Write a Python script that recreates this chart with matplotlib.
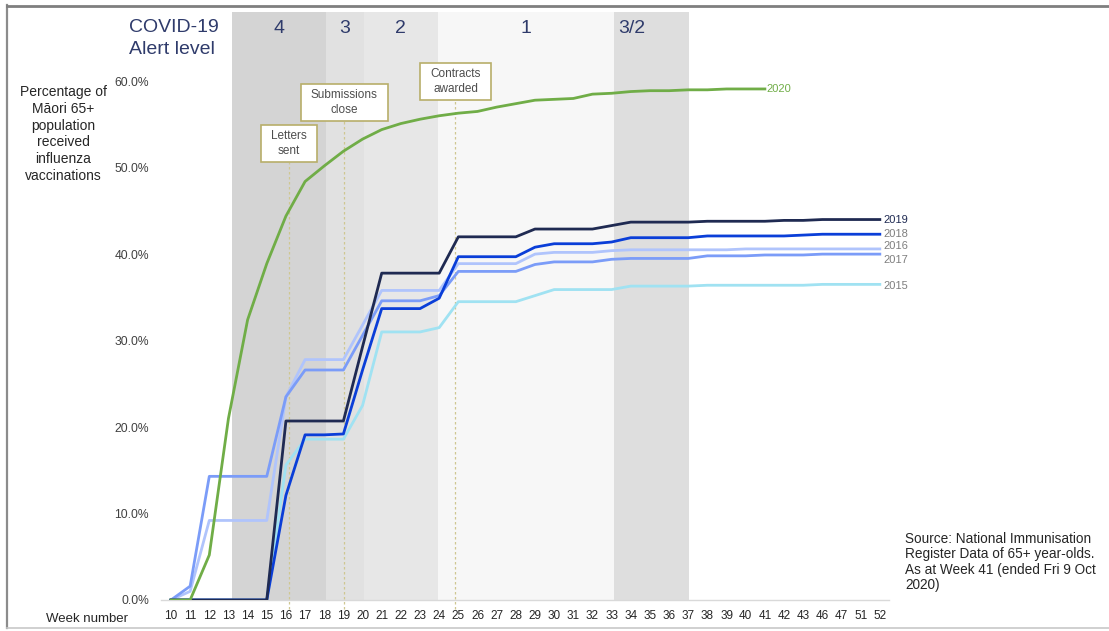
import matplotlib
matplotlib.use("Agg")
import matplotlib.pyplot as plt
from matplotlib.lines import Line2D

plt.rcParams['font.family'] = ['Liberation Sans', 'DejaVu Sans']

weeks = [str(w) for w in range(10, 42)] + ['42', '43', '46', '47', '51', '52']

# % of Maori 65+ vaccinated, by week
pct_2020 = [0, 0, 5.2, 21.0, 32.4, 38.9, 44.4, 48.4, 50.2, 51.9, 53.3, 54.4, 55.1, 55.6, 56.0, 56.3,
            56.5, 57.0, 57.4, 57.8, 57.9, 58.0, 58.5, 58.6, 58.8, 58.9, 58.9, 59.0, 59.0, 59.1, 59.1, 59.1]
pct_2019 = [0, 0, 0, 0, 0, 0, 20.7, 20.7, 20.7, 20.7, 29.3, 37.8, 37.8, 37.8, 37.8, 42.0, 42.0, 42.0, 42.0,
            42.9, 42.9, 42.9, 42.9, 43.3, 43.7, 43.7, 43.7, 43.7, 43.8, 43.8, 43.8, 43.8, 43.9, 43.9,
            44.0, 44.0, 44.0, 44.0]
pct_2018 = [0, 0, 0, 0, 0, 0, 12.1, 19.1, 19.1, 19.2, 26.6, 33.7, 33.7, 33.7, 34.9, 39.7, 39.7, 39.7, 39.7,
            40.8, 41.2, 41.2, 41.2, 41.4, 41.9, 41.9, 41.9, 41.9, 42.1, 42.1, 42.1, 42.1, 42.1, 42.2,
            42.3, 42.3, 42.3, 42.3]
pct_2017 = [0, 1.6, 14.3, 14.3, 14.3, 14.3, 23.5, 26.6, 26.6, 26.6, 30.6, 34.6, 34.6, 34.6, 35.2, 38.0, 38.0,
            38.0, 38.0, 38.8, 39.1, 39.1, 39.1, 39.4, 39.5, 39.5, 39.5, 39.5, 39.8, 39.8, 39.8, 39.9,
            39.9, 39.9, 40.0, 40.0, 40.0, 40.0]
pct_2016 = [0, 1.0, 9.2, 9.2, 9.2, 9.2, 23.5, 27.8, 27.8, 27.8, 31.8, 35.8, 35.8, 35.8, 35.8, 38.9, 38.9,
            38.9, 38.9, 40.0, 40.2, 40.2, 40.2, 40.4, 40.5, 40.5, 40.5, 40.5, 40.5, 40.5, 40.6, 40.6,
            40.6, 40.6, 40.6, 40.6, 40.6, 40.6]
pct_2015 = [0, 0, 0, 0, 0, 0, 15.6, 18.6, 18.6, 18.6, 22.5, 31.0, 31.0, 31.0, 31.5, 34.5, 34.5, 34.5, 34.5,
            35.2, 35.9, 35.9, 35.9, 35.9, 36.3, 36.3, 36.3, 36.3, 36.4, 36.4, 36.4, 36.4, 36.4, 36.4,
            36.5, 36.5, 36.5, 36.5]

series = [('2015', pct_2015, '#a0e2f2', '#7f7f7f', 36.3),
          ('2016', pct_2016, '#b0c4fc', '#7f7f7f', 40.9),
          ('2017', pct_2017, '#7b9cf8', '#7f7f7f', 39.3),
          ('2018', pct_2018, '#0a3ed8', '#7f7f7f', 42.3),
          ('2019', pct_2019, '#1f2a52', '#1f2a52', 44.0)]

# alert levels (start, end in week-index units)
levels = ['4', '3', '2', '1', '3/2']
level_spans = [(3.2, 8.1), (8.1, 10.05), (10.05, 13.95), (13.95, 23.1), (23.1, 27.05)]
level_colors = ['#d4d4d4', '#e1e1e1', '#e7e7e7', '#f7f7f7', '#dedede']

events = ['Letters\nsent', 'Submissions\nclose', 'Contracts\nawarded']
event_x = [6.15, 9.05, 14.85]
event_y = [52.8, 57.5, 60.0]
event_bottom = [50.6, 55.4, 57.9]

navy = '#2f3b6b'

fig = plt.figure(figsize=(11.09, 6.31), dpi=100)
ax = fig.add_axes([161.4 / 1109, 31 / 631, 728 / 1109, 588 / 631])

x = list(range(len(weeks)))

for (lev, (a, b), c) in zip(levels, level_spans, level_colors):
    ax.axvspan(a, b, color=c, lw=0, zorder=0)
    if lev == '3/2':
        ax.text(a + 0.25, 66.1, lev, ha='left', va='center', fontsize=14, color=navy)
    else:
        ax.text((a + b) / 2, 66.1, lev, ha='center', va='center', fontsize=14, color=navy)

for txt, ex, ey, eb in zip(events, event_x, event_y, event_bottom):
    ax.plot([ex, ex], [-1, eb], color='#cfc791', lw=0.9, ls=(0, (2, 2)), zorder=1, clip_on=False)
    ax.text(ex, ey, txt, ha='center', va='center', fontsize=8.5, color='#4d4d4d', linespacing=1.3,
            zorder=5,
            bbox=dict(boxstyle='square,pad=0.85', fc='white', ec='#b8ae6a', lw=1.2, mutation_aspect=0.5))

for name, vals, col, lab_col, lab_y in series:
    ax.plot(x, vals, color=col, lw=2.0, zorder=3)
    ax.text(len(weeks) - 1 + 0.2, lab_y, name, ha='left', va='center', fontsize=8, color=lab_col)

ax.plot(x[:len(pct_2020)], pct_2020, color='#70ad47', lw=2.0, zorder=4)
ax.text(len(pct_2020) - 1 + 0.1, pct_2020[-1], '2020', ha='left', va='center', fontsize=8, color='#70ad47')

ax.set_xlim(-0.5, len(weeks) - 0.5)
ax.set_ylim(0, 68)
ax.set_xticks(x)
ax.set_xticklabels(weeks)
ax.set_yticks([0, 10, 20, 30, 40, 50, 60])
ax.set_yticklabels(['%.1f%%' % v for v in [0, 10, 20, 30, 40, 50, 60]])
ax.tick_params(axis='x', length=0, pad=7, labelsize=8.5, labelcolor='#262626')
ax.tick_params(axis='y', length=0, pad=9, labelsize=8.7, labelcolor='#404040')
for s in ['top', 'right', 'left']:
    ax.spines[s].set_visible(False)
ax.spines['bottom'].set_color('#d9d9d9')
ax.spines['bottom'].set_linewidth(1)
ax.patch.set_alpha(0)

fig.text(129 / 1109, 1 - 28 / 631, 'COVID-19', ha='left', va='center', fontsize=14, color=navy)
fig.text(129 / 1109, 1 - 50 / 631, 'Alert level', ha='left', va='center', fontsize=14, color=navy)
fig.text(63 / 1109, 1 - 134 / 631,
         'Percentage of\nMāori 65+\npopulation\nreceived\ninfluenza\nvaccinations',
         ha='center', va='center', multialignment='center', fontsize=10, color='#262626', linespacing=1.26)
fig.text(87.5 / 1109, 1 - 619 / 631, 'Week number', ha='center', va='center', fontsize=9.5, color='#262626')
fig.text(905 / 1109, 1 - 562 / 631,
         'Source: National Immunisation\nRegister Data of 65+ year-olds.\nAs at Week 41 (ended Fri 9 Oct\n2020)',
         ha='left', va='center', fontsize=9.8, color='#262626', linespacing=1.15)

# frame around the figure
fig.add_artist(Line2D([6.5 / 1109, 6.5 / 1109], [1 - 5 / 631, 1 - 628 / 631], color='#8c8c8c', lw=1.6))
fig.add_artist(Line2D([6.5 / 1109, 1], [1 - 5.5 / 631, 1 - 5.5 / 631], color='#7f7f7f', lw=2))
fig.add_artist(Line2D([6.5 / 1109, 1], [1 - 628 / 631, 1 - 628 / 631], color='#c8c8c8', lw=1.2))

fig.savefig('out.png', dpi=100)
